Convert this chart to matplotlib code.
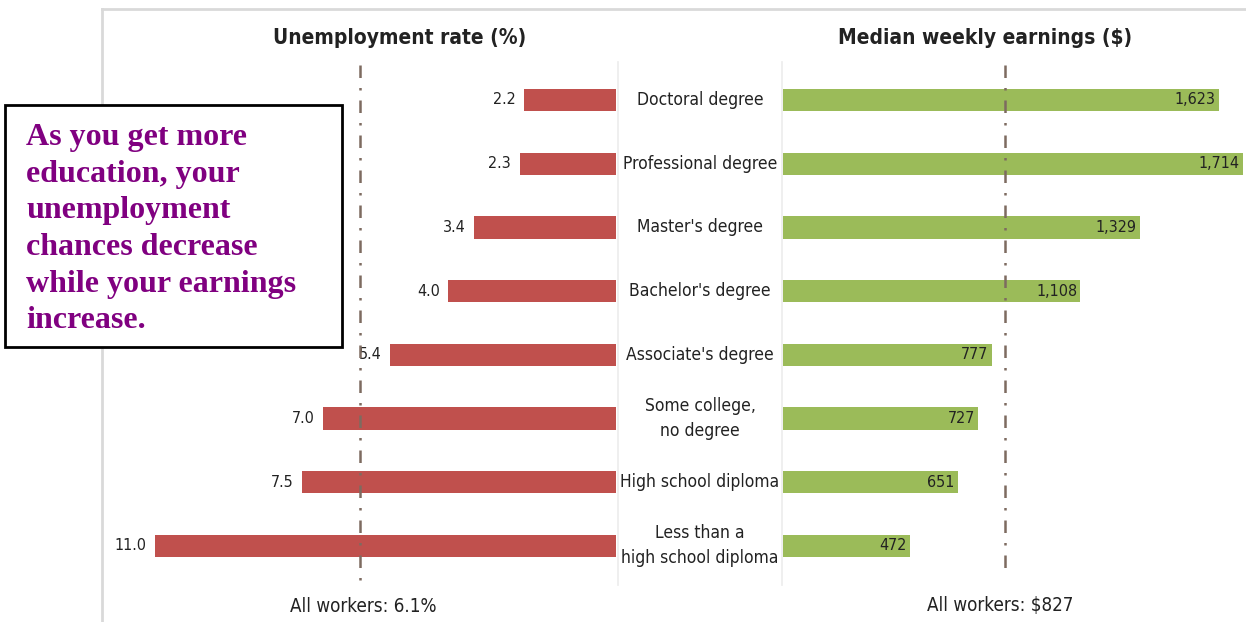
import matplotlib
matplotlib.use("Agg")
import matplotlib.pyplot as plt
from matplotlib.patches import Rectangle
from matplotlib.lines import Line2D

categories = ["Doctoral degree", "Professional degree", "Master's degree",
              "Bachelor's degree", "Associate's degree",
              "Some college,\nno degree", "High school diploma",
              "Less than a\nhigh school diploma"]
unemployment = [2.2, 2.3, 3.4, 4.0, 5.4, 7.0, 7.5, 11.0]
earnings = [1623, 1714, 1329, 1108, 777, 727, 651, 472]
unemp_all = 6.1
earn_all = 827

red = "#C0504D"
green = "#9BBB59"
dash_col = "#7d6b60"
txt = "#222222"

W, H = 1246, 622
fig = plt.figure(figsize=(W / 100, H / 100), dpi=100)

def px_axes(x0, x1, y0, y1):
    return fig.add_axes([x0 / W, 1 - y1 / H, (x1 - x0) / W, (y1 - y0) / H])

cond = dict(family="DejaVu Sans", stretch="condensed")

ytop, ybot = 60, 590
row0, step = 100, 63.7
ylim = ((ybot - row0) / step, (ytop - row0) / step)

# left panel: unemployment, bars growing leftwards
axl = px_axes(103, 616, ytop, ybot)
pxu = 461 / 11.0
axl.set_xlim((616 - 103) / pxu, 0)
axl.set_ylim(*ylim)
ypos = list(range(len(categories)))
axl.barh(ypos, unemployment, height=0.35, color=red, zorder=2)
for y, v in zip(ypos, unemployment):
    axl.text(v + 0.2, y, f"{v:.1f}", ha="right", va="center",
             fontsize=11.5, color=txt, **cond)
axl.plot([unemp_all, unemp_all], [-0.55, 7.65], color=dash_col, lw=1.8,
         dashes=[5, 4, 1, 4], zorder=3)

# right panel: earnings
axr = px_axes(783, 1246, ytop, ybot)
pxe = 460 / 1714
axr.set_xlim(0, (1246 - 783) / pxe)
axr.set_ylim(*ylim)
axr.barh(ypos, earnings, height=0.35, color=green, zorder=2)
for y, v in zip(ypos, earnings):
    axr.text(v - 12, y, f"{v:,}", ha="right", va="center",
             fontsize=11.5, color=txt, **cond)
axr.plot([earn_all, earn_all], [-0.55, 7.35], color=dash_col, lw=1.8,
         dashes=[5, 4, 1, 4], zorder=3)

# center category column
axc = px_axes(618, 782, ytop, ybot)
axc.set_xlim(0, 1)
axc.set_ylim(*ylim)
for y, c in zip(ypos, categories):
    axc.text(0.5, y, c, ha="center", va="center", fontsize=12.5,
             color=txt, linespacing=1.5, **cond)

for ax in (axl, axr, axc):
    ax.axis("off")
    ax.patch.set_alpha(0)

# frame lines
gray = "#d9d9d9"
fig.add_artist(Line2D([102 / W, 1], [1 - 9 / H, 1 - 9 / H], color=gray, lw=2))
fig.add_artist(Line2D([102 / W, 102 / W], [0, 1 - 9 / H], color=gray, lw=2))
for xx in (618, 782):
    fig.add_artist(Line2D([xx / W, xx / W], [1 - 585 / H, 1 - 62 / H],
                          color="#ececec", lw=1.2))

# headers and footers
fig.text(400 / W, 1 - 38 / H, "Unemployment rate (%)", ha="center", va="center",
         fontsize=15, fontweight="bold", color=txt, **cond)
fig.text(985 / W, 1 - 38 / H, "Median weekly earnings ($)", ha="center", va="center",
         fontsize=15, fontweight="bold", color=txt, **cond)
fig.text(363 / W, 1 - 606 / H, f"All workers: {unemp_all}%", ha="center", va="center",
         fontsize=13.5, color=txt, **cond)
fig.text(1000 / W, 1 - 606 / H, f"All workers: ${earn_all}", ha="center", va="center",
         fontsize=13.5, color=txt, **cond)

# annotation box
fig.add_artist(Rectangle((5 / W, 1 - 347 / H), 337 / W, 242 / H, transform=fig.transFigure,
                         facecolor="white", edgecolor="black", lw=2, zorder=5))
fig.text(26 / W, 1 - 123 / H,
         "As you get more\neducation, your\nunemployment\nchances decrease\nwhile your earnings\nincrease.",
         ha="left", va="top", fontsize=23, fontweight="bold", color="#800080",
         family=["Liberation Serif", "DejaVu Serif"], linespacing=1.35, zorder=6)

fig.savefig("out.png", dpi=100)
